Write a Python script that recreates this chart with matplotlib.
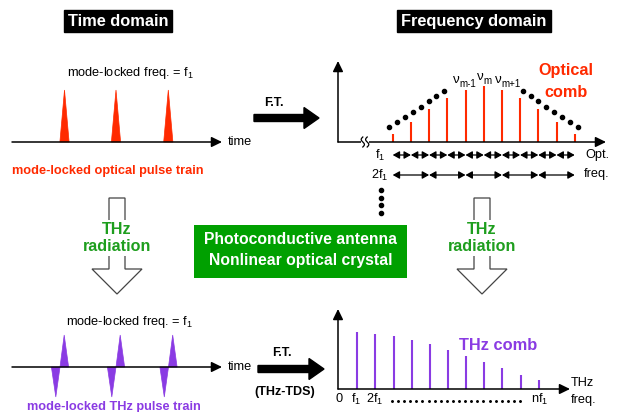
import numpy as np
import matplotlib
matplotlib.use("Agg")
import matplotlib.pyplot as plt
from matplotlib.patches import Polygon, Rectangle, FancyArrow

plt.rcParams['font.family'] = ['Liberation Sans', 'DejaVu Sans']
plt.rcParams['mathtext.fontset'] = 'custom'
plt.rcParams['mathtext.rm'] = 'Liberation Sans'
plt.rcParams['mathtext.it'] = 'Liberation Sans:italic'
plt.rcParams['mathtext.bf'] = 'Liberation Sans:bold'

# ---- data ----
optical_pulse_pos = [64.5, 116, 168.3]
optical_pulse_height = [52, 52, 52]
thz_pulse_pos = [60, 116, 168.5]
thz_pulse_up = [32, 32, 32]
thz_pulse_down = [30, 30, 30]
optical_comb_heights = [8, 20, 33, 44, 52, 56, 52, 44, 33, 20, 8]
thz_comb_heights = [57, 55, 53, 49, 45, 39, 33, 27, 21, 14, 9]
envelope_left = [(389, 127), (397, 122), (405, 117), (413, 112), (421, 107), (429, 101), (436, 96), (444, 91)]
nu_subscripts = ['m-1', 'm', 'm+1']
thz_tick_labels = ['0', r'f$\mathregular{_1}$', r'2f$\mathregular{_1}$', r'nf$\mathregular{_1}$']

RED = '#FF2A00'
PURPLE = '#8A3BE3'
GREEN_TXT = '#1E9E1E'
GREEN_BOX = '#00A000'

fig = plt.figure(figsize=(6.17, 4.12), dpi=100)
ax = fig.add_axes([0, 0, 1, 1])
ax.set_xlim(0, 617)
ax.set_ylim(412, 0)
ax.axis('off')

def axis_arrow(x0, y0, x1, y1, ms=14, lw=1.1):
    ax.annotate('', xy=(x1, y1), xytext=(x0, y0),
                arrowprops=dict(arrowstyle='-|>,head_length=0.45,head_width=0.22',
                                color='black', lw=lw,
                                shrinkA=0, shrinkB=0, mutation_scale=ms))

def dbl_arrow(x0, x1, y, ms=8):
    ax.annotate('', xy=(x1, y), xytext=(x0, y),
                arrowprops=dict(arrowstyle='<|-|>,head_length=0.5,head_width=0.28',
                                color='black', lw=0.9,
                                shrinkA=0, shrinkB=0, mutation_scale=ms))

# ---- headers ----
for cx, txt in [(118, 'Time domain'), (474, 'Frequency domain')]:
    ax.text(cx, 21, txt, color='white', fontsize=11.8, fontweight='bold',
            ha='center', va='center',
            bbox=dict(boxstyle='square,pad=0.24', fc='black', ec='black'))

# ---- top-left: optical pulse train ----
base_top = 142
axis_arrow(12, base_top, 222, base_top)
for c, h in zip(optical_pulse_pos, optical_pulse_height):
    ax.add_patch(Polygon([(c - 4.6, base_top), (c, base_top - h), (c + 4.6, base_top)],
                         closed=True, fc=RED, ec=RED, lw=0.5))
ax.text(228, base_top, 'time', fontsize=9.2, ha='left', va='center')
ax.text(67, 73, r'mode-locked freq. = f$\mathregular{_1}$', fontsize=9.2, ha='left', va='center')
ax.text(108, 171, 'mode-locked optical pulse train', color=RED, fontsize=9.2,
        fontweight='bold', ha='center', va='center')

# F.T. arrow top
ax.add_patch(FancyArrow(254, 118, 65, 0, width=7, head_width=21, head_length=15,
                        length_includes_head=True, fc='black', ec='black'))
ax.text(274, 103, 'F.T.', fontsize=9, fontweight='bold', ha='center', va='center')

# ---- top-right: optical comb ----
fy = 142
axis_arrow(338, fy, 338, 61)
axis_arrow(338, fy, 606, fy)
# axis break
ax.add_patch(Rectangle((361, fy - 3), 8, 6, fc='white', ec='none', zorder=3))
tt = np.linspace(-1, 1, 30)
for off in (-2.2, 2.2):
    ax.plot(365 + off + 1.6 * np.sin(np.pi * tt), fy + 5 * tt, color='black', lw=0.9, zorder=4)

comb_x = 392.7 + 18.2 * np.arange(len(optical_comb_heights))
for x, h in zip(comb_x, optical_comb_heights):
    ax.plot([x, x], [fy, fy - h], color=RED, lw=1.5, solid_capstyle='butt')
ex = [p[0] for p in envelope_left]
ey = [p[1] for p in envelope_left]
ex_r = [967 - x for x in ex[::-1]]
ey_r = ey[::-1]
ax.plot(ex + ex_r, ey + ey_r, 'o', color='black', ms=3, ls='none')
for xl, yl, sub in zip([453, 477, 495], [80, 77, 80], nu_subscripts):
    ax.text(xl, yl, 'ν', fontsize=9.5, ha='left', va='center')
    ax.text(xl + 6.5, yl + 4, sub, fontsize=7, ha='left', va='center')
ax.text(566, 70, 'Optical', color=RED, fontsize=11.7, fontweight='bold', ha='center', va='center')
ax.text(566, 92, 'comb', color=RED, fontsize=11.7, fontweight='bold', ha='center', va='center')

ax.text(380, 155, r'f$\mathregular{_1}$', fontsize=9.2, ha='center', va='center')
for i in range(len(comb_x) - 1):
    dbl_arrow(comb_x[i], comb_x[i + 1], 155)
ax.text(380, 175, r'2f$\mathregular{_1}$', fontsize=9.2, ha='center', va='center')
for i in range(0, len(comb_x) - 2, 2):
    dbl_arrow(comb_x[i], comb_x[i + 2], 175)
ax.text(585, 155, 'Opt.', fontsize=9.2, ha='left', va='center')
ax.text(584, 174, 'freq.', fontsize=9.2, ha='left', va='center')
ax.plot([381] * 4, [190, 197.5, 205, 213], 'o', color='black', ms=3, ls='none')

# ---- middle: hollow arrows + green box ----
def hollow_arrow(cx):
    pts = [(cx - 8, 198), (cx + 8, 198), (cx + 8, 269), (cx + 25, 269), (cx, 294),
           (cx - 25, 269), (cx - 8, 269)]
    ax.add_patch(Polygon(pts, closed=True, fc='white', ec='#444444', lw=0.9))
    ax.text(cx, 238, 'THz\nradiation', color=GREEN_TXT, fontsize=11.6, fontweight='bold',
            ha='center', va='center', linespacing=1.15,
            bbox=dict(boxstyle='square,pad=0.1', fc='white', ec='none'))

hollow_arrow(117)
hollow_arrow(482)
ax.add_patch(Rectangle((194, 225), 213, 53, fc=GREEN_BOX, ec='none'))
ax.text(300.5, 239, 'Photoconductive antenna', color='white', fontsize=11.3,
        fontweight='bold', ha='center', va='center')
ax.text(300.5, 261, 'Nonlinear optical crystal', color='white', fontsize=11.3,
        fontweight='bold', ha='center', va='center')

# ---- bottom-left: THz pulse train ----
base_bot = 367
axis_arrow(12, base_bot, 222, base_bot)
for c, up, dn in zip(thz_pulse_pos, thz_pulse_up, thz_pulse_down):
    ax.add_patch(Polygon([(c, base_bot), (c + 4.2, base_bot - up), (c + 8.6, base_bot)],
                         closed=True, fc=PURPLE, ec=PURPLE, lw=0.5))
    ax.add_patch(Polygon([(c - 8.6, base_bot), (c - 4.2, base_bot + dn), (c, base_bot)],
                         closed=True, fc=PURPLE, ec=PURPLE, lw=0.5))
ax.text(228, base_bot, 'time', fontsize=9.2, ha='left', va='center')
ax.text(66, 322, r'mode-locked freq. = f$\mathregular{_1}$', fontsize=9.2, ha='left', va='center')
ax.text(114, 407, 'mode-locked THz pulse train', color=PURPLE, fontsize=9.2,
        fontweight='bold', ha='center', va='center')

ax.add_patch(FancyArrow(258, 369, 66, 0, width=7, head_width=21, head_length=15,
                        length_includes_head=True, fc='black', ec='black'))
ax.text(282, 353, 'F.T.', fontsize=9, fontweight='bold', ha='center', va='center')
ax.text(285, 392, '(THz-TDS)', fontsize=9, fontweight='bold', ha='center', va='center')

# ---- bottom-right: THz comb ----
ty = 389
axis_arrow(338, ty, 338, 309)
axis_arrow(338, ty, 570, ty)
thz_x = 357.3 + 18.14 * np.arange(len(thz_comb_heights))
for x, h in zip(thz_x, thz_comb_heights):
    ax.plot([x, x], [ty, ty - h], color=PURPLE, lw=1.5, solid_capstyle='butt')
ax.text(498, 345, 'THz comb', color=PURPLE, fontsize=11.8, fontweight='bold',
        ha='center', va='center')
ax.text(582, 383, 'THz', fontsize=9.2, ha='center', va='center')
ax.text(584, 400, 'freq.', fontsize=9.2, ha='center', va='center')
for xl, lab in zip([339, 356, 375, 540], thz_tick_labels):
    ax.text(xl, 399, lab, fontsize=9.2, ha='center', va='center')
ax.plot(np.linspace(392, 520, 22), [401] * 22, 'o', color='black', ms=1.1, ls='none')

fig.savefig('out.png', dpi=100)
